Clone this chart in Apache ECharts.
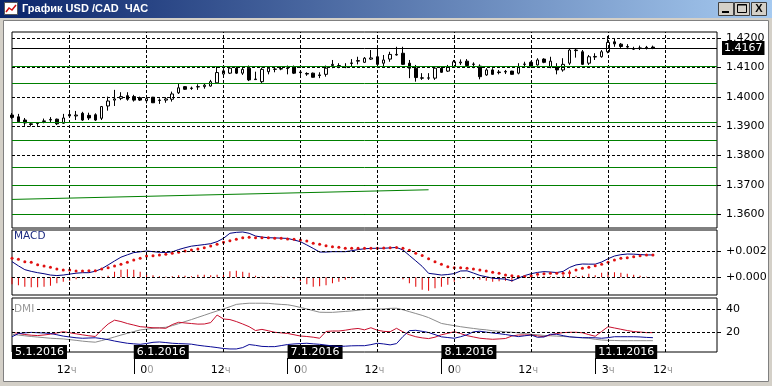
<!DOCTYPE html>
<html><head><meta charset="utf-8">
<script src="https://cdn.jsdelivr.net/npm/echarts@6/dist/echarts.min.js"></script>
<style>html,body{margin:0;padding:0;background:#d4d0c8;}#c{width:772px;height:386px;}</style>
</head><body><div id="c"></div>
<script>
// ---------- data ----------
const sessionDays = [['5.1.2016',3,23],['6.1.2016',0,23],['7.1.2016',0,23],['8.1.2016',0,23],['11.1.2016',3,20]];
const categories = [];
sessionDays.forEach(([d,h0,h1]) => { for (let h = h0; h <= h1; h++) categories.push(d + ' ' + String(h).padStart(2,'0') + ':00'); });

const opens = [1.3938,1.3932,1.3921,1.3908,1.3909,1.3916,1.3921,1.3924,1.3910,1.3935,
1.3935,1.3944,1.3937,1.3939,1.3927,1.3969,1.3989,1.3995,1.4004,1.4001,
1.3997,1.3987,1.3999,1.3989,1.3989,1.3992,1.4014,1.4035,1.4030,1.4034,
1.4035,1.4037,1.4048,1.4078,1.4081,1.4098,1.4081,1.4098,1.4059,1.4052,
1.4086,1.4094,1.4095,1.4097,1.4103,1.4085,1.4080,1.4081,1.4075,1.4077,
1.4107,1.4105,1.4102,1.4114,1.4122,1.4118,1.4129,1.4137,1.4115,1.4129,
1.4143,1.4149,1.4115,1.4098,1.4065,1.4064,1.4064,1.4098,1.4088,1.4103,
1.4116,1.4122,1.4112,1.4105,1.4075,1.4092,1.4085,1.4085,1.4088,1.4081,
1.4111,1.4118,1.4109,1.4129,1.4103,1.4103,1.4092,1.4115,1.4158,1.4154,
1.4115,1.4136,1.4137,1.4154,1.4188,1.4180,1.4172,1.4165,1.4166,1.4167,
1.4170];
const closes = [1.3930,1.3915,1.3911,1.3906,1.3911,1.3918,1.3923,1.3908,1.3928,1.3940,
1.3938,1.3921,1.3928,1.3921,1.3967,1.3986,1.3993,1.4001,1.3992,1.3989,
1.3989,1.3994,1.3980,1.3988,1.3993,1.4010,1.4031,1.4026,1.4029,1.4035,
1.4040,1.4052,1.4083,1.4089,1.4098,1.4081,1.4094,1.4058,1.4061,1.4094,
1.4098,1.4095,1.4097,1.4099,1.4081,1.4083,1.4078,1.4067,1.4073,1.4098,
1.4111,1.4107,1.4104,1.4116,1.4124,1.4132,1.4133,1.4111,1.4126,1.4145,
1.4145,1.4111,1.4098,1.4066,1.4064,1.4065,1.4098,1.4084,1.4103,1.4120,
1.4119,1.4107,1.4111,1.4069,1.4092,1.4077,1.4083,1.4087,1.4077,1.4103,
1.4112,1.4103,1.4126,1.4118,1.4122,1.4092,1.4111,1.4160,1.4160,1.4111,
1.4137,1.4138,1.4154,1.4186,1.4181,1.4172,1.4170,1.4163,1.4167,1.4169,
1.4167];
const lows = [1.3925,1.3911,1.3901,1.3899,1.3901,1.3910,1.3912,1.3904,1.3908,1.3928,
1.3921,1.3918,1.3921,1.3918,1.3921,1.3953,1.3969,1.3989,1.3987,1.3984,
1.3986,1.3978,1.3979,1.3976,1.3980,1.3984,1.4010,1.4024,1.4024,1.4024,
1.4028,1.4035,1.4047,1.4069,1.4078,1.4078,1.4075,1.4054,1.4058,1.4046,
1.4077,1.4084,1.4091,1.4077,1.4078,1.4075,1.4072,1.4066,1.4064,1.4069,
1.4098,1.4098,1.4098,1.4103,1.4111,1.4116,1.4126,1.4109,1.4103,1.4120,
1.4141,1.4109,1.4064,1.4052,1.4058,1.4058,1.4058,1.4082,1.4085,1.4102,
1.4109,1.4103,1.4098,1.4060,1.4072,1.4075,1.4077,1.4078,1.4076,1.4077,
1.4103,1.4102,1.4107,1.4115,1.4098,1.4077,1.4086,1.4109,1.4134,1.4109,
1.4109,1.4126,1.4134,1.4149,1.4171,1.4167,1.4163,1.4160,1.4160,1.4162,
1.4163];
const highs = [1.3945,1.3942,1.3928,1.3914,1.3914,1.3926,1.3931,1.3926,1.3942,1.3948,
1.3952,1.3949,1.3946,1.3944,1.3969,1.4001,1.4024,1.4016,1.4016,1.4007,
1.4001,1.3999,1.4000,1.3995,1.3999,1.4018,1.4046,1.4037,1.4035,1.4043,
1.4046,1.4058,1.4103,1.4098,1.4102,1.4102,1.4100,1.4107,1.4086,1.4100,
1.4100,1.4103,1.4102,1.4107,1.4107,1.4086,1.4084,1.4083,1.4084,1.4107,
1.4126,1.4115,1.4115,1.4129,1.4137,1.4136,1.4160,1.4166,1.4143,1.4154,
1.4171,1.4171,1.4126,1.4109,1.4081,1.4081,1.4103,1.4103,1.4109,1.4126,
1.4128,1.4129,1.4118,1.4111,1.4098,1.4098,1.4092,1.4092,1.4089,1.4115,
1.4120,1.4121,1.4132,1.4132,1.4137,1.4115,1.4132,1.4166,1.4166,1.4160,
1.4143,1.4149,1.4160,1.4208,1.4198,1.4184,1.4180,1.4171,1.4175,1.4174,
1.4175];

const macdMain = [0.00119,0.00087,0.00058,0.00045,0.00035,0.00027,0.00017,0.00013,0.00017,0.00024,
0.00031,0.00035,0.00035,0.00046,0.00065,0.00094,0.00124,0.00153,0.00171,0.00188,
0.00194,0.00200,0.00195,0.00190,0.00189,0.00193,0.00211,0.00225,0.00237,0.00243,
0.00249,0.00256,0.00271,0.00297,0.00335,0.00342,0.00345,0.00335,0.00314,0.00306,
0.00301,0.00300,0.00298,0.00296,0.00284,0.00271,0.00246,0.00220,0.00192,0.00192,
0.00195,0.00195,0.00195,0.00202,0.00211,0.00217,0.00220,0.00221,0.00221,0.00224,
0.00227,0.00208,0.00166,0.00125,0.00083,0.00030,0.00024,0.00017,0.00021,0.00028,
0.00048,0.00049,0.00032,0.00014,0.00004,-0.00007,-0.00011,-0.00014,-0.00027,-0.00007,
0.00013,0.00027,0.00037,0.00043,0.00040,0.00036,0.00045,0.00075,0.00094,0.00101,
0.00100,0.00100,0.00116,0.00141,0.00162,0.00172,0.00177,0.00176,0.00173,0.00170,
0.00170];
const macdSignal = [0.00144,0.00137,0.00119,0.00114,0.00096,0.00086,0.00076,0.00063,0.00056,0.00056,
0.00048,0.00048,0.00050,0.00050,0.00063,0.00073,0.00086,0.00099,0.00114,0.00132,
0.00144,0.00162,0.00164,0.00170,0.00175,0.00183,0.00190,0.00200,0.00208,0.00215,
0.00225,0.00238,0.00251,0.00266,0.00278,0.00289,0.00301,0.00304,0.00301,0.00301,
0.00301,0.00297,0.00297,0.00291,0.00289,0.00284,0.00276,0.00259,0.00251,0.00240,
0.00233,0.00228,0.00221,0.00221,0.00221,0.00221,0.00221,0.00221,0.00222,0.00225,
0.00227,0.00221,0.00205,0.00183,0.00166,0.00142,0.00119,0.00099,0.00081,0.00073,
0.00073,0.00068,0.00063,0.00056,0.00048,0.00038,0.00030,0.00017,0.00012,0.00005,
0.00005,0.00012,0.00023,0.00027,0.00030,0.00030,0.00030,0.00035,0.00056,0.00068,
0.00076,0.00088,0.00099,0.00114,0.00132,0.00144,0.00149,0.00157,0.00164,0.00170,
0.00170];
const macdHist = [-0.00053,-0.00061,-0.00072,-0.00076,-0.00076,-0.00072,-0.00065,-0.00046,-0.00034,-0.00027,
-0.00015,-0.00011,-0.00008,-0.00004,0.00004,0.00011,0.00042,0.00057,0.00061,0.00057,
0.00042,0.00030,0.00015,0.00008,0.00004,0.00008,0.00015,0.00011,0.00008,0.00019,
0.00019,0.00015,0.00019,0.00030,0.00046,0.00049,0.00042,0.00034,0.00011,0.00004,
0.00004,0.00004,0.00004,0.00004,-0.00011,-0.00030,-0.00053,-0.00072,-0.00068,-0.00061,
-0.00046,-0.00034,-0.00019,-0.00008,-0.00004,0.00002,0.00002,0.00002,0.00002,0.00002,
0.00002,-0.00015,-0.00046,-0.00072,-0.00095,-0.00103,-0.00084,-0.00072,-0.00057,-0.00034,
-0.00011,-0.00008,-0.00015,-0.00019,-0.00027,-0.00034,-0.00030,-0.00027,-0.00034,-0.00011,
0.00004,0.00008,0.00008,0.00008,0.00008,0.00004,0.00015,0.00053,0.00011,0.00011,
0.00027,0.00015,0.00034,0.00042,0.00038,0.00034,0.00027,0.00019,0.00011,0.00004,
0.00004];

const adx = [18.3,17.6,17.0,16.4,15.9,15.4,14.9,14.6,14.3,13.7,
13.1,12.4,11.9,11.5,12.9,14.4,16.0,17.6,19.1,20.6,
22.0,22.7,23.4,23.9,24.3,25.7,27.4,29.2,30.9,32.8,
34.6,36.5,38.3,40.0,41.9,43.9,44.5,44.9,44.9,44.9,
44.8,44.3,43.9,43.6,42.6,41.3,40.0,38.6,37.2,37.1,
37.1,37.5,37.9,38.3,38.9,39.5,39.8,39.9,40.0,40.5,
40.6,39.3,37.7,36.1,34.5,32.6,30.1,27.6,26.6,25.7,
24.8,24.0,23.3,22.6,22.1,21.3,20.9,20.4,20.0,19.5,
18.9,18.3,17.9,17.3,17.0,16.7,16.4,16.1,15.6,15.2,
14.8,14.0,13.4,13.1,13.0,12.8,12.8,12.8,12.8,12.8,
12.8];
const plusDI = [20.0,19.0,18.1,17.5,17.2,17.7,18.4,19.4,20.5,19.6,
18.7,17.8,17.0,16.4,22.1,27.1,30.4,29.2,27.5,26.2,
24.8,24.4,23.9,23.7,23.4,26.6,28.6,28.0,27.5,27.0,
27.1,28.3,34.8,31.4,30.9,29.2,27.1,24.8,21.5,22.5,
21.3,20.0,19.5,19.0,17.9,16.8,16.4,15.8,14.9,20.7,
21.1,21.1,21.8,22.7,23.3,22.1,23.9,21.8,20.8,20.5,
23.4,20.4,17.9,16.2,15.2,14.6,15.8,17.9,19.1,20.5,
18.9,17.1,16.0,14.9,14.4,14.0,14.3,14.7,16.8,17.7,
17.7,17.7,16.9,16.2,17.7,19.0,19.7,20.0,20.0,19.6,
18.0,16.6,20.7,24.8,23.7,22.6,21.5,20.6,20.2,19.7,
19.7];
const minusDI = [16.2,18.9,19.5,19.9,19.6,19.4,19.0,17.9,16.7,16.0,
15.3,14.9,15.1,15.3,14.6,13.7,12.5,11.5,10.6,10.1,
9.7,10.4,11.4,11.7,11.2,10.6,10.3,10.1,9.8,8.9,
8.2,7.6,6.9,6.1,5.7,5.7,6.9,9.5,8.8,7.9,
7.7,7.7,8.6,9.5,10.0,10.3,10.6,10.1,9.7,9.0,
8.3,7.9,8.1,8.4,8.5,8.5,9.4,10.6,10.0,9.2,
10.3,16.4,21.4,21.7,20.8,19.8,18.0,16.1,15.5,14.9,
16.2,17.9,20.4,20.9,20.1,19.4,18.8,18.1,17.2,16.3,
17.0,17.7,15.7,16.0,18.3,18.3,17.1,16.1,15.7,15.4,
15.4,15.3,14.9,15.4,16.2,16.2,16.2,16.2,16.0,15.6,
15.4];

const priceTicks = [1.36,1.37,1.38,1.39,1.40,1.41,1.42];
const macdTicks = [0, 0.002];
const dmiTicks = [20, 40];
const greenLevels = [1.4103,1.4046,1.3913,1.3853,1.3760,1.3700,1.3599];
const trendIdx = [0, 65];
const trendPrice = [1.3650, 1.3683];
const lastPrice = 1.4167;
const vGridIdx = [9,21,33,45,57,69,81,93,102];
const dateLabelIdx = [0,19,43,67,91];
const dateLabelText = ['5.1.2016','6.1.2016','7.1.2016','8.1.2016','11.1.2016'];
const dateTickIdx = [19,43,67,91];
const timeLabelIdx = [7,20,31,44,55,68,79,92,100];
const timeLabelHour = ['12','0','12','0','12','0','12','3','12'];
const timeLabelSuffix = ['ч','0','ч','0','ч','0','ч','ч','ч'];

// ---------- chart ----------
const FONT = 'DejaVu Sans';
const chart = echarts.init(document.getElementById('c'), null, {renderer:'canvas', width:772, height:386});
const dashed = {color:'#000', width:1, type:[3,2]};
const mk = (data, lineStyle) => ({silent:true, precision:10, symbol:['none','none'], animation:false, label:{show:false}, lineStyle, data});
const hL = vals => vals.map(v => ({yAxis: v}));
const vL = () => vGridIdx.map(i => ({xAxis: categories[i]}));
const GL = 12, GR = 55;
const grids = [
  {left:GL, right:GR, top:32, height:196},
  {left:GL, right:GR, top:230, height:65},
  {left:GL, right:GR, top:298, height:54}
].map(g => Object.assign(g, {show:true, backgroundColor:'#fff', borderColor:'#000', borderWidth:1, containLabel:false}));

const hiddenX = gi => ({gridIndex:gi, type:'category', data:categories, boundaryGap:false, show:false});
const yBase = (gi, min, max, ticks, fmt) => ({
  gridIndex:gi, type:'value', position:'right', min, max, scale:true,
  splitLine:{show:false}, axisLine:{show:false},
  axisTick:{show:true, length:4, customValues:ticks, lineStyle:{color:'#000'}},
  axisLabel:{customValues:ticks, formatter:fmt, color:'#000', fontFamily:FONT, fontSize:11, margin:9, padding:[3,0,0,0]}
});

const option = {
  animation:false,
  backgroundColor:'#d4d0c8',
  grid: grids,
  title: [
    {text:'MACD', left:14, top:231, padding:0, textStyle:{color:'#1c2a80', fontSize:10.5, fontWeight:'normal', fontFamily:FONT}},
    {text:'DMI', left:14, top:304, padding:[0,1,0,0], backgroundColor:'#fff', textStyle:{color:'#999', fontSize:10.5, fontWeight:'normal', fontFamily:FONT}}
  ],
  xAxis: [
    hiddenX(0), hiddenX(1), hiddenX(2),
    {gridIndex:2, type:'category', data:categories, boundaryGap:false, position:'bottom', offset:6,
     axisLine:{show:false}, splitLine:{show:false},
     axisTick:{show:true, interval:(i)=>dateTickIdx.includes(i), length:16, lineStyle:{color:'#000'}},
     axisLabel:{interval:(i)=>dateLabelIdx.includes(i), formatter:(v,i)=>dateLabelText[dateLabelIdx.indexOf(i)] || '',
       margin:-13, align:'left', color:'#fff', backgroundColor:'#000', padding:[2,3,1,3], fontFamily:FONT, fontSize:11}},
    {gridIndex:2, type:'category', data:categories, boundaryGap:false, position:'bottom', offset:6,
     axisLine:{show:false}, axisTick:{show:false}, splitLine:{show:false},
     axisLabel:{interval:(i)=>timeLabelIdx.includes(i), margin:7, align:'left',
       formatter:(v,i)=>{const k = timeLabelIdx.indexOf(i); return k < 0 ? '' : '{h|' + timeLabelHour[k] + '}{s|' + timeLabelSuffix[k] + '}';},
       rich:{h:{color:'#000', fontFamily:FONT, fontSize:11}, s:{color:'#9a9a9a', fontFamily:FONT, fontSize:10}}}}
  ],
  yAxis: [
    yBase(0, 1.35525, 1.42215, priceTicks, v => v.toFixed(4)),
    yBase(1, -0.00135, 0.0036, macdTicks, v => '+' + v.toFixed(3)),
    yBase(2, 3.1, 49.4, dmiTicks, v => String(v))
  ],
  graphic: [
    {type:'rect', z:-10, shape:{x:3.5, y:20.5, width:765, height:361}, style:{fill:'#fff', stroke:'#808080', lineWidth:1}},
    {type:'rect', z:10, shape:{x:0, y:0, width:772, height:18},
     style:{fill:new echarts.graphic.LinearGradient(0,0,1,0,[{offset:0,color:'#0a246a'},{offset:1,color:'#a6caf0'}])}},
    {type:'rect', z:11, shape:{x:4.5, y:2.5, width:13, height:12}, style:{fill:'#fff', stroke:'#5a5a5a', lineWidth:1}},
    {type:'polyline', z:12, shape:{points:[[6,12],[9,8],[12,10],[16,5]]}, style:{stroke:'#d01010', lineWidth:1.5, fill:null}},
    {type:'text', z:12, x:22, y:3, style:{text:'График USD /CAD  ЧАС', fill:'#fff', font:'bold 11px "Liberation Sans"', textVerticalAlign:'top', verticalAlign:'top'}},
    {type:'rect', z:11, shape:{x:718.5, y:2.5, width:15, height:13}, style:{fill:'#d4d0c8', stroke:'#404040', lineWidth:1}},
    {type:'rect', z:12, shape:{x:722, y:11, width:7, height:2}, style:{fill:'#000'}},
    {type:'rect', z:11, shape:{x:734.5, y:2.5, width:15, height:13}, style:{fill:'#d4d0c8', stroke:'#404040', lineWidth:1}},
    {type:'rect', z:12, shape:{x:737.5, y:4.5, width:9, height:8}, style:{fill:null, stroke:'#000', lineWidth:1}},
    {type:'rect', z:12, shape:{x:737.5, y:4.5, width:9, height:1}, style:{fill:'#000'}},
    {type:'rect', z:11, shape:{x:751.5, y:2.5, width:15, height:13}, style:{fill:'#d4d0c8', stroke:'#404040', lineWidth:1}},
    {type:'text', z:12, x:759, y:3, style:{text:'X', fill:'#000', font:'bold 11px "Liberation Sans"', textAlign:'center', align:'center', textVerticalAlign:'top', verticalAlign:'top'}}
  ],
  series: [
    // price panel
    {type:'line', xAxisIndex:0, yAxisIndex:0, data:[], z:1, markLine:mk([...hL(priceTicks), ...vL()], dashed)},
    {type:'line', xAxisIndex:0, yAxisIndex:0, data:[], z:2, markLine:mk([
      ...hL(greenLevels),
      [{coord:[categories[trendIdx[0]], trendPrice[0]]}, {coord:[categories[trendIdx[1]], trendPrice[1]]}]
    ], {color:'#008000', width:1, type:'solid'})},
    {type:'candlestick', xAxisIndex:0, yAxisIndex:0, z:3, barWidth:3,
     data: opens.map((o,i) => [o, closes[i], lows[i], highs[i]]),
     itemStyle:{color:'#fff', color0:'#000', borderColor:'#000', borderColor0:'#000', borderWidth:1}},
    {type:'line', xAxisIndex:0, yAxisIndex:0, data:[], z:4, markLine:{silent:true, precision:10, symbol:['none','none'], animation:false,
      lineStyle:{color:'#000', width:1, type:'solid'},
      data:[{yAxis:lastPrice, label:{show:true, position:'end', distance:5, formatter:p => Number(p.value).toFixed(4),
        color:'#fff', backgroundColor:'#000', padding:[2,2,1,2], fontFamily:FONT, fontSize:11}}]}},
    // MACD panel
    {type:'line', xAxisIndex:1, yAxisIndex:1, data:[], z:1, markLine:mk([...hL(macdTicks), ...vL()], dashed)},
    {type:'bar', xAxisIndex:1, yAxisIndex:1, z:2, data:macdHist, barWidth:1, itemStyle:{color:'#e00000'}},
    {type:'line', xAxisIndex:1, yAxisIndex:1, z:3, data:macdMain, symbol:'none', lineStyle:{color:'#000080', width:1}},
    {type:'line', xAxisIndex:1, yAxisIndex:1, z:4, data:macdSignal, symbol:'circle', symbolSize:3, showAllSymbol:true,
     lineStyle:{opacity:0}, itemStyle:{color:'#e01010', borderWidth:0}},
    // DMI panel
    {type:'line', xAxisIndex:2, yAxisIndex:2, data:[], z:1, markLine:mk([...hL(dmiTicks), ...vL()], dashed)},
    {type:'line', xAxisIndex:2, yAxisIndex:2, z:2, data:adx, symbol:'none', lineStyle:{color:'#8c8c8c', width:1}},
    {type:'line', xAxisIndex:2, yAxisIndex:2, z:3, data:plusDI, symbol:'none', lineStyle:{color:'#c8102e', width:1}},
    {type:'line', xAxisIndex:2, yAxisIndex:2, z:4, data:minusDI, symbol:'none', lineStyle:{color:'#0a0a96', width:1}}
  ]
};
chart.setOption(option);
</script>
</body></html>
